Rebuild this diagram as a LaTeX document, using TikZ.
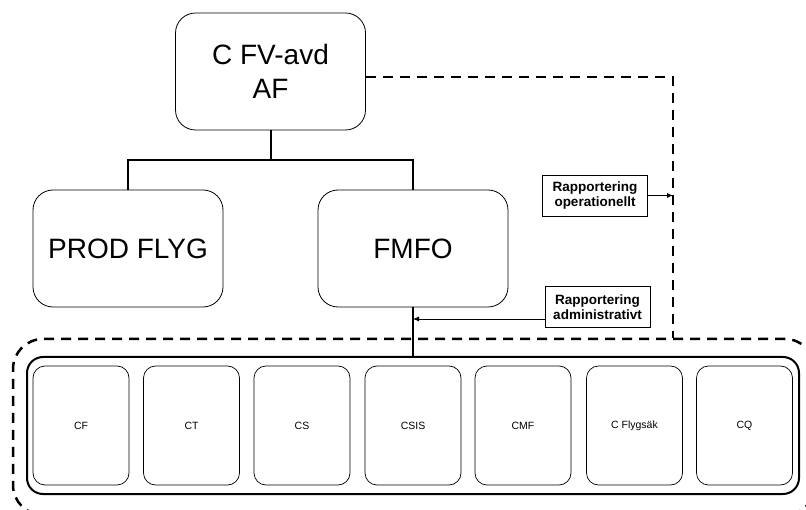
\documentclass[tikz,border=0pt]{standalone}
\usepackage{fontspec}
\setmainfont{Liberation Sans}
\usetikzlibrary{arrows.meta}

\begin{document}
\begin{tikzpicture}[x=1pt, y=-1pt,
    unit/.style={draw, line width=0.8pt, rounded corners=20pt, minimum width=190pt, minimum height=117pt, align=center, font=\fontsize{28}{33.6}\selectfont},
    sub/.style={draw, line width=0.7pt, rounded corners=12pt, minimum width=96pt, minimum height=119pt, font=\fontsize{10.5}{12}\selectfont},
    note/.style={draw, line width=0.8pt, align=center, minimum width=105pt, minimum height=41pt, font=\fontsize{13.5}{15.5}\selectfont\bfseries},
    tree/.style={line width=2pt},
    report/.style={line width=2.5pt, dash pattern=on 10pt off 7pt},
    tip/.style={line width=0.8pt, -{Latex[length=6pt, width=5pt]}}]
    \useasboundingbox (0, 0) rectangle (806, 510);

    \node[unit] (cfv) at (270.5, 71.5) {C FV-avd\\AF};
    \node[unit] (prod) at (128, 248.5) {PROD FLYG};
    \node[unit] (fmfo) at (413, 248.5) {FMFO};

    % the group under FMFO
    \node[draw, report, rounded corners=30pt, minimum width=802pt, minimum height=176pt] (outer) at (414, 427) {};
    \node[draw, line width=2pt, rounded corners=16pt, minimum width=772pt, minimum height=137pt] (inner) at (413, 425.5) {};

    \node[sub] (cf) at (81, 425.5) {CF};
    \node[sub] (ct) at (191.5, 425.5) {CT};
    \node[sub] (cs) at (302, 425.5) {CS};
    \node[sub] (csis) at (413, 425.5) {CSIS};
    \node[sub] (cmf) at (523, 425.5) {CMF};
    \node[sub] (cfs) at (634.5, 425.5) {C Flygsäk};
    \node[sub] (cq) at (744.5, 425.5) {CQ};

    \node[note] (oper) at (595, 195.5) {Rapportering\\operationellt};
    \node[note] (adm) at (597.5, 307) {Rapportering\\administrativt};

    \coordinate (split) at (270.5, 160);
    \coordinate (bend) at (673, 77);
    \coordinate (admtail) at ([yshift=-12pt]adm.west);

    \draw[tree] (cfv) -- (split) -| (prod);
    \draw[tree] (split) -| (fmfo);
    \draw[tree] (fmfo) -- (fmfo |- inner.north);

    \draw[report] (cfv.east |- bend) -- (bend) -- (bend |- outer.north);

    \draw[tip] (oper) -- (oper -| bend);
    \draw[tip] (admtail) -- (admtail -| fmfo.south);
\end{tikzpicture}
\end{document}
